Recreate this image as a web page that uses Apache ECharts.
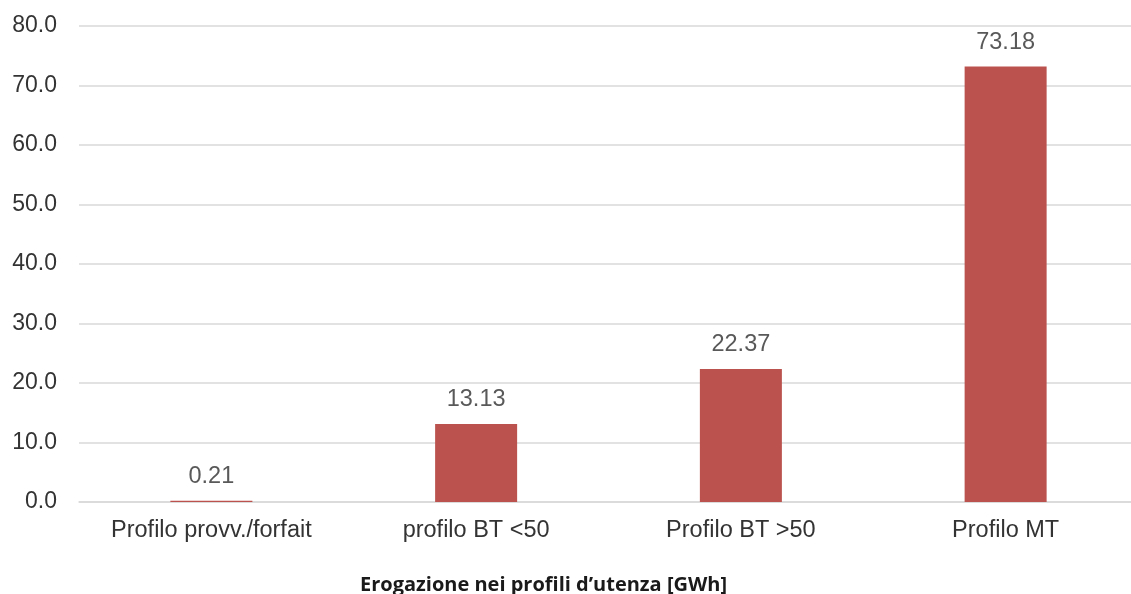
<!DOCTYPE html>
<html>
<head>
<meta charset="utf-8">
<script src="https://cdn.jsdelivr.net/npm/echarts@6/dist/echarts.min.js"></script>
<style>
html,body{margin:0;padding:0;background:#fff;overflow:hidden;width:1131px;height:594px;}
#c{width:1140px;height:594px;}
</style>
</head>
<body>
<div id="c"></div>
<script>
const categories = ['Profilo provv./forfait', 'profilo BT <50', 'Profilo BT >50', 'Profilo MT'];
const values = [0.21, 13.13, 22.37, 73.18];
const yTicks = { min: 0, max: 80, interval: 10 };
const titleText = 'Erogazione nei profili d\u2019utenza [GWh]';

const chart = echarts.init(document.getElementById('c'));
chart.setOption({
  animation: false,
  backgroundColor: '#ffffff',
  title: {
    text: titleText,
    left: 355, top: 570,
    textStyle: { fontFamily: 'Open Sans', fontWeight: 'bold', fontSize: 20, color: '#1a1a1a' }
  },
  grid: { left: 79, width: 1059, top: 26, bottom: 92, containLabel: false },
  xAxis: {
    type: 'category',
    data: categories,
    axisLine: { show: true, lineStyle: { color: '#d9d9d9', width: 1.5 } },
    axisTick: { show: false },
    axisLabel: { fontFamily: 'Liberation Sans', fontSize: 23.5, color: '#333333', margin: 17 }
  },
  yAxis: {
    type: 'value',
    min: yTicks.min, max: yTicks.max, interval: yTicks.interval,
    axisLine: { show: false },
    axisTick: { show: false },
    splitLine: { lineStyle: { color: '#d9d9d9', width: 1.5 } },
    axisLabel: {
      fontFamily: 'Liberation Sans', fontSize: 23, color: '#333333', margin: 22,
      formatter: v => v.toFixed(1)
    }
  },
  series: [{
    type: 'bar',
    data: values,
    barWidth: 82,
    itemStyle: { color: '#BB524D' },
    label: {
      show: true, position: 'top', distance: 12,
      fontFamily: 'Liberation Sans', fontSize: 23.5, color: '#595959',
      formatter: p => p.value.toFixed(2)
    }
  }]
});
</script>
</body>
</html>
